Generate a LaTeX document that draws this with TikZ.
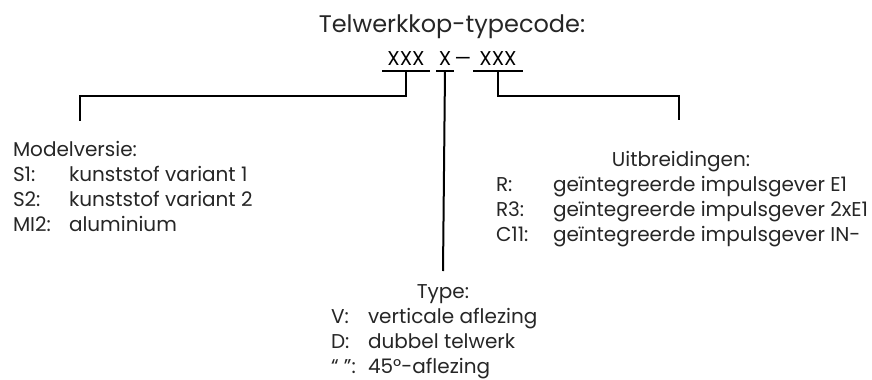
\documentclass[tikz,border=0pt]{standalone}
\usepackage{fontspec}
\setmainfont{Poppins}
\usetikzlibrary{positioning}

\begin{document}
\begin{tikzpicture}[
        x=0.75pt, y=-0.75pt,
        font=\fontsize{15pt}{19.1pt}\selectfont,
        line width=1.5pt,
        code/.style={
            anchor=base,
            inner xsep=0pt,
            inner ysep=4.5pt,
            text depth=0pt,
            outer sep=0pt
        },
        head/.style={
            anchor=base,
            inner sep=0pt,
            text=black!85
        },
        list/.style={
            anchor=base west,
            inner sep=0pt,
            text=black!85
        }
    ]
        \useasboundingbox (0,0) rectangle (872,379);

        \node[head, font=\fontsize{18pt}{22pt}\selectfont] (title) at (452,32) {Telwerkkop-typecode:};

        \node[code, minimum width=36pt] (codeModel) at (406,65) {XXX};
        \node[code, minimum width=13pt] (codeType) at (445,65) {X};
        \node[code, xscale=1.3] (codeDash) at (463,65) {–};
        \node[code, minimum width=37.5pt] (codeExt) at (498,65) {XXX};

        \draw (codeModel.south west) -- (codeModel.south east);
        \draw (codeType.south west) -- (codeType.south east);
        \draw (codeExt.south west) -- (codeExt.south east);

        \node[list] (headModel) at (12,156) {Modelversie:};
        \node[list] (listModel) at (12,181) {\begin{tabular}[t]{@{}p{42pt}@{}l@{}}
            S1: & kunststof variant 1\\
            S2: & kunststof variant 2\\
            MI2: & aluminium
        \end{tabular}};

        \node[head] (headType) at (443,298) {Type:};
        \node[list] (listType) at (330,323) {\begin{tabular}[t]{@{}p{27.75pt}@{}l@{}}
            V: & verticale aflezing\\
            D: & dubbel telwerk\\
            “ ”: & 45°-aflezing
        \end{tabular}};

        \node[head] (headExt) at (681,166) {Uitbreidingen:};
        \node[list] (listExt) at (495,191) {\begin{tabular}[t]{@{}p{42.75pt}@{}l@{}}
            R: & geïntegreerde impulsgever E1\\
            R3: & geïntegreerde impulsgever 2xE1\\
            C11: & geïntegreerde impulsgever IN-
        \end{tabular}};

        \coordinate (kneeModel) at (80,96);
        \coordinate (endModel) at (80,121);
        \coordinate (endType) at (443,271);
        \coordinate (kneeExt) at (679,96);
        \coordinate (endExt) at (679,120);

        \draw (codeModel.south) |- (kneeModel) -- (endModel);
        \draw (codeType.south) -- (endType);
        \draw (codeExt.south) |- (kneeExt) -- (endExt);

    \end{tikzpicture}
\end{document}
